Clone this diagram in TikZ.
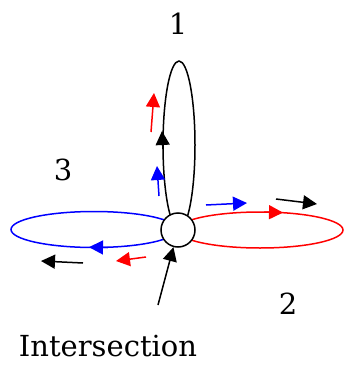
\documentclass[tikz,border=0pt]{standalone}
\usepackage{fontspec}
\setmainfont{DejaVu Serif}
\usetikzlibrary{arrows.meta}
\begin{document}
\begin{tikzpicture}[x=1pt,y=-1pt,
  ln/.style={line width=1.5pt},
  arr/.style={ln,-{Triangle[length=14pt,width=14pt]}},
  lbl/.style={inner sep=0pt,font=\fontsize{29}{34}\selectfont}]
\useasboundingbox (0,0) rectangle (345,369);
% loops
\draw[ln,black] (179,145) ellipse [x radius=16pt, y radius=84pt];
\draw[ln,red] (260,230) ellipse [x radius=83pt, y radius=18pt];
\draw[ln,blue] (94,229.5) ellipse [x radius=83pt, y radius=18pt];
% arrows on loops
\draw[arr,black] (162.9,149) -- (162,131);
\draw[arr,red] (264,212.1) -- (283,212.6);
\draw[arr,blue] (108,247.5) -- (89,247.2);
% intersection
\node[ln,draw,circle,fill=white,minimum size=34pt,inner sep=0pt] (int) at (178,230) {};
% free arrows
\coordinate (r1a) at (151,132); \coordinate (r1b) at (154,93);
\coordinate (b1a) at (159,196); \coordinate (b1b) at (157,166);
\coordinate (b2a) at (206,205); \coordinate (b2b) at (247,203);
\coordinate (k1a) at (276,199); \coordinate (k1b) at (317,204);
\coordinate (k2a) at (83,263); \coordinate (k2b) at (41,261);
\coordinate (r2a) at (146,257); \coordinate (r2b) at (116,261);
\coordinate (k3a) at (158,305);
\draw[arr,red] (r1a) -- (r1b);
\draw[arr,blue] (b1a) -- (b1b);
\draw[arr,blue] (b2a) -- (b2b);
\draw[arr,black] (k1a) -- (k1b);
\draw[arr,black] (k2a) -- (k2b);
\draw[arr,red] (r2a) -- (r2b);
\draw[arr,black] (k3a) -- (int);
% labels
\node[lbl,anchor=base] (l1) at (178,35) {1};
\node[lbl,anchor=base] (l3) at (63,180) {3};
\node[lbl,anchor=base] (l2) at (288,314) {2};
\node[lbl,anchor=base] (li) at (108,356) {Intersection};
\end{tikzpicture}
\end{document}
